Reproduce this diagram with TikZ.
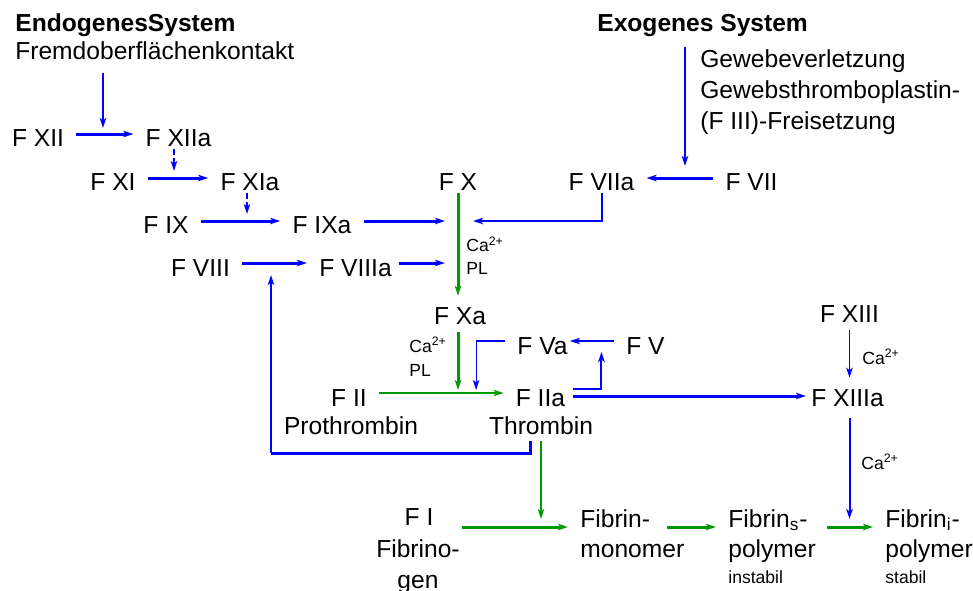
\documentclass[tikz,border=0pt]{standalone}
\usepackage{fontspec}
\setmainfont{Liberation Sans}
\usepackage{xcolor}
\usetikzlibrary{arrows.meta}
\definecolor{flowblue}{RGB}{0,0,255}
\definecolor{flowgreen}{RGB}{0,153,0}

\begin{document}
\begin{tikzpicture}[
    x=0.02cm, y=-0.02cm,
    fac/.style={font=\fontsize{14}{17}\selectfont, text height=0.52cm, text depth=0pt, inner xsep=0.24cm, inner ysep=0.04cm, anchor=base},
    txt/.style={font=\fontsize{14}{17}\selectfont, inner sep=0pt, anchor=base},
    hdr/.style={font=\fontsize{14}{17}\selectfont\bfseries, inner sep=0pt, anchor=base west},
    sml/.style={font=\fontsize{10}{12}\selectfont, inner sep=0pt, anchor=base west},
    arr/.style={-{Stealth[length=0.2cm, width=0.13cm, inset=0.05cm]}},
    bthk/.style={arr, draw=flowblue, line width=0.06cm},
    bmed/.style={arr, draw=flowblue, line width=0.04cm},
    bthin/.style={arr, draw=flowblue, line width=0.024cm},
    gthk/.style={arr, draw=flowgreen, line width=0.06cm},
    gthin/.style={arr, draw=flowgreen, line width=0.024cm},
    dsh/.style={dash pattern=on 0.12cm off 0.06cm}
]
    \useasboundingbox (0,0) rectangle (973,591);

    % Headings
    \node[hdr] (endo) at (15,32) {EndogenesSystem};
    \node[txt, anchor=base west] (fremd) at (15,60) {Fremdoberflächenkontakt};
    \node[hdr] (exo) at (597,32) {Exogenes System};
    \node[txt, anchor=base west] (gew1) at (700,68) {Gewebeverletzung};
    \node[txt, anchor=base west] (gew2) at (700,99) {Gewebsthromboplastin-};
    \node[txt, anchor=base west] (gew3) at (700,130) {(F III)-Freisetzung};

    % Factors
    \node[fac] (fxii) at (38,147) {F XII};
    \node[fac] (fxiia) at (178.5,147) {F XIIa};
    \node[fac] (fxi) at (113,191) {F XI};
    \node[fac] (fxia) at (250,191) {F XIa};
    \node[fac] (fx) at (458,191) {F X};
    \node[fac] (fviia) at (601.5,191) {F VIIa};
    \node[fac] (fvii) at (751.5,191) {F VII};
    \node[fac] (fix) at (166,234) {F IX};
    \node[fac] (fixa) at (322,234) {F IXa};
    \node[fac] (fviii) at (200.5,276) {F VIII};
    \node[fac] (fviiia) at (355.5,276) {F VIIIa};
    \node[fac] (fxa) at (460,324) {F Xa};
    \node[fac] (fxiii) at (849.5,322) {F XIII};
    \node[fac] (fva) at (542.5,354) {F Va};
    \node[fac] (fv) at (645.5,354) {F V};
    \node[fac] (fii) at (349,406) {F II};
    \node[fac] (fiia) at (540.5,406) {F IIa};
    \node[fac] (fxiiia) at (847.5,406) {F XIIIa};
    \node[txt] (proth) at (351,434) {Prothrombin};
    \node[txt] (thr) at (541,434) {Thrombin};

    % Fibrin
    \node[fac] (fi) at (419,525) {F I};
    \node[txt] (fi2) at (418,557) {Fibrino-};
    \node[txt] (fi3) at (418,588) {gen};
    \node[fac, anchor=base west] (fmono) at (568,527) {Fibrin-};
    \node[txt, anchor=base west] (fmono2) at (580,557) {monomer};
    \node[fac, anchor=base west] (fibs) at (716,527) {Fibrin\textsubscript{s}-};
    \node[txt, anchor=base west] (fibs2) at (728,557) {polymer};
    \node[sml] (fibs3) at (728,583) {instabil};
    \node[fac, anchor=base west] (fibi) at (873,527) {Fibrin\textsubscript{i}-};
    \node[txt, anchor=base west] (fibi2) at (885,557) {polymer};
    \node[sml] (fibi3) at (885,583) {stabil};

    % Cofactors
    \node[sml] (cax) at (466,252) {Ca\textsuperscript{2+}};
    \node[sml] (plx) at (466,275) {PL};
    \node[sml] (caxa) at (409,352) {Ca\textsuperscript{2+}};
    \node[sml] (plxa) at (409,376) {PL};
    \node[sml] (caxiii) at (862,364) {Ca\textsuperscript{2+}};
    \node[sml] (cafib) at (861,469) {Ca\textsuperscript{2+}};

    % Endogenous cascade
    \coordinate (endA) at (103,73);
    \draw[bmed, shorten >=0.12cm] (endA) -- (endA |- fxii.east);
    \draw[bthk] (fxii) -- (fxiia);
    \coordinate (dA) at ([xshift=-0.09cm]fxiia.south);
    \draw[bmed, dsh, shorten >=0.14cm] (dA) -- (dA |- fxi.east);
    \draw[bthk] (fxi) -- (fxia);
    \coordinate (dB) at ([xshift=-0.06cm]fxia.south);
    \draw[bthin, dsh, shorten >=0.14cm] (dB) -- (dB |- fix.east);
    \draw[bthk] (fix) -- (fixa);
    \draw[bthk, shorten >=0.26cm] (fixa.east) -- (fixa.east -| fx.south);
    \draw[bthk] (fviii) -- (fviiia);
    \draw[bthk, shorten <=-0.1cm, shorten >=0.26cm] (fviiia.east) -- (fviiia.east -| fx.south);
    \draw[gthk] (fx) -- (fx |- fxa.north);

    % Exogenous cascade
    \coordinate (exoA) at (685,47);
    \draw[bmed, shorten >=0.24cm] (exoA) -- (exoA |- fvii.west);
    \draw[bthk] (fvii) -- (fviia);
    \draw[bmed, shorten >=0.3cm] (fviia.south) |- (fixa.east -| fx.south);

    % Common pathway
    \draw[gthk, shorten <=0.12cm, shorten >=0.06cm] (fx |- fxa.south) -- (fx |- fii.east);
    \draw[bthin, shorten >=-0.2cm] (fv) -- (fva);
    \coordinate (vaX) at ([xshift=-0.58cm]fva.west);
    \draw[bthin, shorten >=0.06cm] (fva.west) -| (vaX |- fii.east);
    \draw[gthin] (fii) -- (fiia);
    \coordinate (vX) at ([xshift=0.48cm]fiia.east);
    \draw[bmed, shorten <=-0.08cm, shorten >=0.22cm] ([yshift=0.08cm]fiia.east) -| (vX |- fv.west);
    \draw[bthk, shorten <=-0.08cm, shorten >=-0.14cm] ([yshift=-0.06cm]fiia.east) -- ([yshift=-0.06cm]fxiiia.west);
    \draw[bthin, shorten <=0.12cm] (fxiii) -- (fxiii |- fxiiia.north);
    \draw[bmed, shorten <=0.2cm, shorten >=0.16cm] (fxiii |- fxiiia.south) -- (fxiii |- fibi.base);

    % Thrombin feedback
    \coordinate (thrA) at ([xshift=-0.22cm]thr.south);
    \coordinate (loopL) at (271,453);
    \draw[draw=flowblue, line width=0.06cm, shorten <=0.12cm] (thrA) |- (loopL);
    \draw[bmed, shorten >=0.24cm] (loopL) -- (loopL |- fviii.east);
    \draw[gthin, shorten <=0.12cm, shorten >=0.16cm] (thr) -- (thr |- fmono.base west);

    % Fibrin formation
    \draw[gthk, shorten <=0.04cm] (fi2.east |- fmono.base west) -- (fmono.base west);
    \draw[gthk, shorten <=0.1cm] (fmono.base east) -- (fibs.base west);
    \draw[gthk, shorten <=0.14cm] (fibs.base east) -- (fibi.base west);
\end{tikzpicture}
\end{document}
